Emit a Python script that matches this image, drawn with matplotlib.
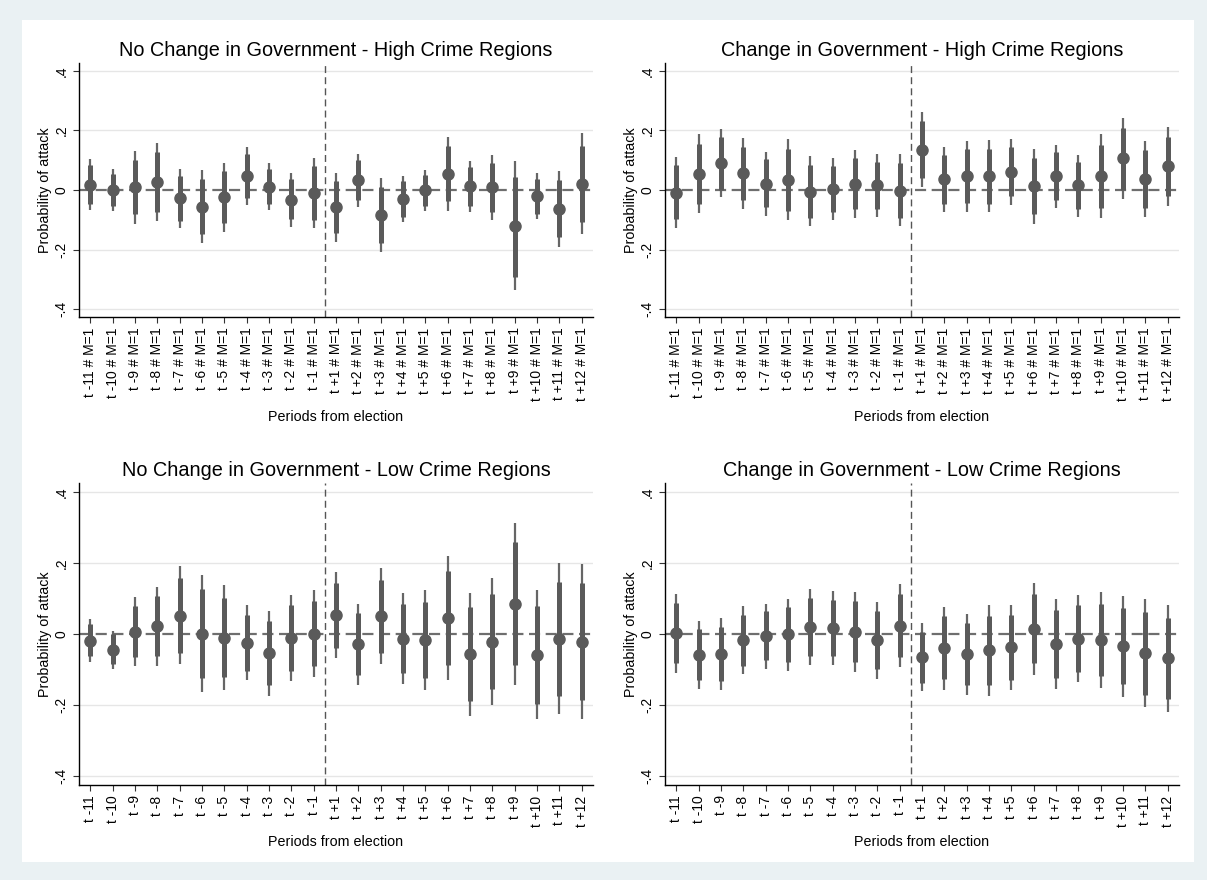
import matplotlib.pyplot as plt
import numpy as np

plt.rcParams["font.family"] = ["Liberation Sans", "DejaVu Sans"]

periods = [-11, -10, -9, -8, -7, -6, -5, -4, -3, -2, -1,
           1, 2, 3, 4, 5, 6, 7, 8, 9, 10, 11, 12]

# No change in government, high crime
nc_high_est = [0.018, 0.0, 0.009, 0.027, -0.028, -0.056, -0.025, 0.047, 0.010, -0.035, -0.010,
               -0.058, 0.033, -0.084, -0.029, 0.0, 0.055, 0.012, 0.009, -0.120, -0.020, -0.064, 0.021]
nc_high_lo90 = [-0.046, -0.053, -0.082, -0.073, -0.104, -0.147, -0.112, -0.026, -0.048, -0.098, -0.100,
                -0.145, -0.035, -0.179, -0.089, -0.052, -0.038, -0.053, -0.074, -0.293, -0.080, -0.158, -0.108]
nc_high_hi90 = [0.083, 0.053, 0.100, 0.126, 0.047, 0.036, 0.063, 0.120, 0.070, 0.036, 0.080,
                0.029, 0.100, 0.010, 0.029, 0.049, 0.148, 0.076, 0.092, 0.044, 0.037, 0.033, 0.149]
nc_high_lo95 = [-0.066, -0.071, -0.113, -0.103, -0.128, -0.179, -0.142, -0.051, -0.066, -0.125, -0.129,
                -0.176, -0.057, -0.209, -0.109, -0.069, -0.069, -0.073, -0.102, -0.335, -0.097, -0.192, -0.147]
nc_high_hi95 = [0.103, 0.070, 0.130, 0.157, 0.072, 0.066, 0.092, 0.144, 0.089, 0.058, 0.109,
                0.057, 0.122, 0.040, 0.048, 0.066, 0.179, 0.097, 0.119, 0.096, 0.056, 0.063, 0.191]

# Change in government, high crime
ch_high_est = [-0.009, 0.054, 0.091, 0.056, 0.021, 0.035, -0.006, 0.003, 0.020, 0.016, -0.002,
               0.135, 0.036, 0.046, 0.046, 0.061, 0.012, 0.046, 0.016, 0.046, 0.106, 0.036, 0.079]
ch_high_lo90 = [-0.097, -0.046, 0.001, -0.033, -0.057, -0.069, -0.094, -0.074, -0.065, -0.065, -0.093,
                0.040, -0.046, -0.044, -0.046, -0.020, -0.082, -0.034, -0.063, -0.060, 0.001, -0.060, -0.020]
ch_high_hi90 = [0.083, 0.154, 0.178, 0.145, 0.103, 0.137, 0.083, 0.080, 0.107, 0.094, 0.090,
                0.231, 0.118, 0.136, 0.137, 0.143, 0.108, 0.126, 0.094, 0.152, 0.209, 0.134, 0.178]
ch_high_lo95 = [-0.128, -0.078, -0.024, -0.063, -0.088, -0.100, -0.122, -0.100, -0.094, -0.091, -0.122,
                0.009, -0.074, -0.073, -0.075, -0.049, -0.113, -0.060, -0.089, -0.093, -0.029, -0.091, -0.053]
ch_high_hi95 = [0.111, 0.187, 0.204, 0.174, 0.129, 0.171, 0.113, 0.107, 0.135, 0.120, 0.120,
                0.263, 0.145, 0.165, 0.167, 0.170, 0.138, 0.151, 0.119, 0.187, 0.242, 0.165, 0.210]

# No change in government, low crime
nc_low_est = [-0.020, -0.046, 0.007, 0.023, 0.052, 0.001, -0.010, -0.024, -0.055, -0.011, 0.001,
              0.054, -0.029, 0.050, -0.013, -0.018, 0.045, -0.057, -0.022, 0.085, -0.059, -0.013, -0.022]
nc_low_lo90 = [-0.063, -0.086, -0.066, -0.062, -0.053, -0.125, -0.121, -0.104, -0.145, -0.104, -0.091,
               -0.039, -0.115, -0.053, -0.110, -0.124, -0.087, -0.189, -0.156, -0.088, -0.198, -0.174, -0.187]
nc_low_hi90 = [0.027, 0.0, 0.079, 0.106, 0.158, 0.127, 0.101, 0.055, 0.037, 0.081, 0.094,
               0.145, 0.058, 0.153, 0.085, 0.089, 0.177, 0.076, 0.113, 0.259, 0.079, 0.148, 0.145]
nc_low_lo95 = [-0.079, -0.100, -0.090, -0.090, -0.086, -0.163, -0.159, -0.130, -0.174, -0.132, -0.121,
               -0.069, -0.144, -0.086, -0.142, -0.159, -0.130, -0.232, -0.199, -0.143, -0.241, -0.225, -0.241]
nc_low_hi95 = [0.041, 0.009, 0.103, 0.134, 0.191, 0.167, 0.137, 0.081, 0.066, 0.109, 0.123,
               0.176, 0.086, 0.185, 0.117, 0.125, 0.219, 0.117, 0.157, 0.313, 0.123, 0.200, 0.198]

# Change in government, low crime
ch_low_est = [0.002, -0.059, -0.056, -0.017, -0.005, -0.001, 0.021, 0.017, 0.007, -0.017, 0.023,
              -0.066, -0.039, -0.056, -0.046, -0.038, 0.014, -0.028, -0.013, -0.017, -0.035, -0.054, -0.069]
ch_low_lo90 = [-0.083, -0.130, -0.132, -0.090, -0.074, -0.078, -0.061, -0.063, -0.079, -0.100, -0.065,
               -0.137, -0.128, -0.143, -0.143, -0.130, -0.083, -0.124, -0.107, -0.118, -0.142, -0.171, -0.184]
ch_low_hi90 = [0.087, 0.013, 0.020, 0.055, 0.064, 0.076, 0.101, 0.097, 0.092, 0.064, 0.112,
               0.007, 0.050, 0.030, 0.051, 0.053, 0.114, 0.068, 0.082, 0.085, 0.072, 0.063, 0.044]
ch_low_lo95 = [-0.110, -0.155, -0.157, -0.113, -0.098, -0.103, -0.087, -0.088, -0.107, -0.127, -0.093,
               -0.160, -0.157, -0.171, -0.174, -0.159, -0.117, -0.154, -0.136, -0.151, -0.177, -0.207, -0.219]
ch_low_hi95 = [0.114, 0.037, 0.044, 0.078, 0.086, 0.100, 0.128, 0.122, 0.119, 0.091, 0.140,
               0.030, 0.077, 0.057, 0.081, 0.081, 0.144, 0.099, 0.111, 0.118, 0.107, 0.100, 0.081]

yticks = [-0.4, -0.2, 0, 0.2, 0.4]
ytick_labels = ["-.4", "-.2", "0", ".2", ".4"]


def period_label(p, with_m):
    s = f"t {p:+d}" if p > 0 else f"t {p}"
    return s + " # M=1" if with_m else s


panels = [
    ("No Change in Government - High Crime Regions", nc_high_est, nc_high_lo90, nc_high_hi90, nc_high_lo95, nc_high_hi95, True),
    ("Change in Government - High Crime Regions", ch_high_est, ch_high_lo90, ch_high_hi90, ch_high_lo95, ch_high_hi95, True),
    ("No Change in Government - Low Crime Regions", nc_low_est, nc_low_lo90, nc_low_hi90, nc_low_lo95, nc_low_hi95, False),
    ("Change in Government - Low Crime Regions", ch_low_est, ch_low_lo90, ch_low_hi90, ch_low_lo95, ch_low_hi95, False),
]

W, H = 1207, 880
fig = plt.figure(figsize=(W / 100, H / 100), dpi=100)
fig.patch.set_facecolor("#eaf1f3")
fig.add_artist(plt.Rectangle((22 / W, 1 - 862 / H), (1194 - 22) / W, (862 - 20) / H,
                             transform=fig.transFigure, facecolor="white", edgecolor="none", zorder=0))

# axes boxes in pixel coordinates: left, right, top, bottom
boxes = [(79, 593, 63, 317), (665, 1179, 63, 317), (79, 593, 483, 785), (665, 1179, 483, 785)]

mark_color = "#5a5a5a"
x = np.arange(1, len(periods) + 1)

for (title, est, lo90, hi90, lo95, hi95, with_m), (l, r, t, b) in zip(panels, boxes):
    ax = fig.add_axes([l / W, 1 - b / H, (r - l) / W, (b - t) / H])
    ax.set_facecolor("none")
    ax.set_xlim(0.5, len(periods) + 0.5)
    ax.set_ylim(-0.426, 0.426)
    for gy in [-0.4, -0.2, 0.2, 0.4]:
        ax.axhline(gy, color="#e6e6e6", linewidth=1.0, zorder=1)
    ax.axhline(0, color="#6e6e6e", linewidth=1.6, linestyle=(0, (5, 2.5)), zorder=2)
    ax.axvline(11.5, color="#555555", linewidth=1.0, linestyle=(0, (5, 3)), zorder=2)
    ax.vlines(x, lo95, hi95, color="#666666", linewidth=1.6, zorder=3)
    ax.vlines(x, lo90, hi90, color=mark_color, linewidth=3.6, zorder=4)
    ax.plot(x, est, "o", color=mark_color, markersize=8, zorder=5)

    ax.set_title(title, fontsize=14.3, pad=5)
    ax.set_yticks(yticks)
    ax.set_yticklabels(ytick_labels, rotation=90, va="center", fontsize=10)
    ax.set_xticks(x)
    ax.set_xticklabels([period_label(p, with_m) for p in periods], rotation=90, fontsize=10)
    ax.tick_params(direction="out", length=4, width=0.8, color="#333333")
    ax.set_ylabel("Probability of attack", fontsize=10.3, labelpad=2)
    ax.set_xlabel("Periods from election", fontsize=10.3, labelpad=6)
    for side in ["top", "right"]:
        ax.spines[side].set_visible(False)
    for side in ["left", "bottom"]:
        ax.spines[side].set_color("black")
        ax.spines[side].set_linewidth(1.0)

fig.savefig("out.png", dpi=100, facecolor=fig.get_facecolor())
